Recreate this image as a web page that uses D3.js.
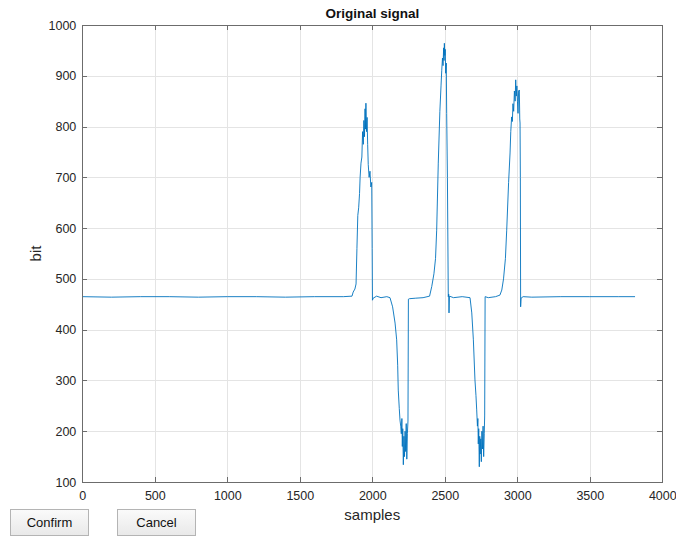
<!DOCTYPE html>
<html>
<head>
<meta charset="utf-8">
<script src="https://cdn.jsdelivr.net/npm/d3@7"></script>
<style>
  body { margin: 0; background: #fff; font-family: "Liberation Sans", Arial, sans-serif; }
  svg { position: absolute; left: 0; top: 0; }
  .btn {
    position: absolute; width: 79px; height: 27px; box-sizing: border-box;
    border: 1px solid #b4b4b4; background: linear-gradient(#fafafa, #e9e9e9);
    font-size: 13px; color: #111; text-align: center; line-height: 25px;
  }
  .grid line { stroke: #e4e4e4; shape-rendering: crispEdges; }
  .axis path, .axis line { stroke: #6c6c6c; shape-rendering: crispEdges; }
  .axis text { fill: #262626; font-size: 12.5px; font-family: "Liberation Sans", Arial, sans-serif; }
</style>
</head>
<body>
<svg width="676" height="536"></svg>
<div class="btn" style="left:10px; top:509px;">Confirm</div>
<div class="btn" style="left:117px; top:509px;">Cancel</div>
<script>
// signal values (sample index, bit value)
var samples = [0, 200, 400, 600, 800, 1000, 1200, 1400, 1600, 1800, 1860,
  1868, 1880, 1888, 1894, 1900, 1906, 1912, 1916, 1922, 1928, 1933, 1938, 1942,
  1946, 1950, 1953, 1956, 1960, 1964, 1968, 1972, 1978, 1984, 1990, 1996, 1999,
  2001, 2006, 2030, 2060, 2100, 2122, 2140, 2157, 2168, 2175, 2179, 2186, 2191,
  2196, 2200, 2204, 2207, 2210, 2214, 2218, 2222, 2226, 2230, 2234, 2238, 2242,
  2246, 2249, 2256, 2300, 2350, 2395, 2410, 2425, 2436, 2444, 2455, 2466, 2474,
  2479, 2484, 2488, 2492, 2495, 2497, 2500, 2503, 2506, 2510, 2513, 2518, 2524,
  2527, 2529, 2532, 2560, 2620, 2674, 2686, 2697, 2708, 2715, 2720, 2725, 2728,
  2731, 2734, 2738, 2741, 2744, 2748, 2752, 2756, 2760, 2764, 2768, 2772, 2775,
  2778, 2800, 2850, 2880, 2893, 2905, 2918, 2927, 2940, 2950, 2955, 2961, 2966,
  2970, 2975, 2980, 2985, 2989, 2993, 2997, 3001, 3005, 3009, 3014, 3017, 3019,
  3021, 3023, 3026, 3040, 3100, 3300, 3500, 3700, 3812];
var bits = [465, 464, 465, 465, 464, 465, 465, 464, 465, 465, 466,
  474, 480, 490, 560, 625, 640, 668, 700, 728, 740, 790, 765, 812,
  780, 835, 795, 846, 790, 818, 765, 725, 700, 712, 681, 690, 560,
  458, 462, 466, 463, 465, 463, 445, 413, 380, 330, 281, 245, 222,
  210, 195, 225, 170, 205, 134, 190, 150, 200, 160, 215, 145, 195,
  220, 460, 461, 462, 463, 466, 485, 510, 540, 596, 728, 830, 880,
  911, 935, 920, 955, 930, 964, 940, 952, 905, 925, 826, 700, 465,
  470, 433, 466, 463, 465, 463, 433, 380, 301, 270, 242, 210, 225,
  175, 205, 130, 190, 155, 185, 140, 200, 165, 210, 150, 195, 230,
  465, 463, 465, 468, 478, 500, 540, 596, 690, 748, 790, 819, 810,
  845, 830, 870, 850, 892, 860, 880, 850, 826, 870, 872, 815, 807,
  700, 445, 462, 465, 464, 465, 465, 465, 465];

var xTicks = [0, 500, 1000, 1500, 2000, 2500, 3000, 3500, 4000];
var yTicks = [100, 200, 300, 400, 500, 600, 700, 800, 900, 1000];

var svg = d3.select("svg");
var plotL = 82.3, plotR = 662.3, plotT = 25, plotB = 482;

var x = d3.scaleLinear().domain([0, 4000]).range([plotL, plotR]);
var y = d3.scaleLinear().domain([100, 1000]).range([plotB, plotT]);

// grid
var grid = svg.append("g").attr("class", "grid");
grid.selectAll(".gx").data(xTicks.slice(1, -1)).enter().append("line")
    .attr("x1", function(d) { return Math.round(x(d)) + 0.5; })
    .attr("x2", function(d) { return Math.round(x(d)) + 0.5; })
    .attr("y1", plotT).attr("y2", plotB);
grid.selectAll(".gy").data(yTicks.slice(1, -1)).enter().append("line")
    .attr("y1", function(d) { return Math.round(y(d)) + 0.5; })
    .attr("y2", function(d) { return Math.round(y(d)) + 0.5; })
    .attr("x1", plotL).attr("x2", plotR);

// signal
var pts = samples.map(function(s, i) { return [s, bits[i]]; });
var line = d3.line()
    .x(function(d) { return x(d[0]); })
    .y(function(d) { return y(d[1]); });

svg.append("path")
    .datum(pts)
    .attr("fill", "none")
    .attr("stroke", "#0072BD")
    .attr("stroke-width", 0.9)
    .attr("stroke-linejoin", "round")
    .attr("d", line);

// axes, ticks pointing inward
var fmt = d3.format("d");
svg.append("g").attr("class", "axis")
    .attr("transform", "translate(0," + plotB + ")")
    .call(d3.axisBottom(x).tickValues(xTicks).tickFormat(fmt).tickSizeInner(-5).tickSizeOuter(0).tickPadding(9));
svg.append("g").attr("class", "axis")
    .attr("transform", "translate(0," + plotT + ")")
    .call(d3.axisTop(x).tickValues(xTicks).tickSizeInner(-5).tickSizeOuter(0).tickFormat(""));
svg.append("g").attr("class", "axis")
    .attr("transform", "translate(" + plotL + ",0)")
    .call(d3.axisLeft(y).tickValues(yTicks).tickFormat(fmt).tickSizeInner(-5).tickSizeOuter(0).tickPadding(6));
svg.append("g").attr("class", "axis")
    .attr("transform", "translate(" + plotR + ",0)")
    .call(d3.axisRight(y).tickValues(yTicks).tickSizeInner(-5).tickSizeOuter(0).tickFormat(""));

// labels
svg.append("text")
    .attr("x", (plotL + plotR) / 2).attr("y", 18)
    .attr("text-anchor", "middle")
    .style("font-weight", "bold").style("font-size", "13.5px").style("fill", "#111")
    .text("Original signal");

svg.append("text")
    .attr("x", (plotL + plotR) / 2).attr("y", 520)
    .attr("text-anchor", "middle")
    .style("font-size", "15px").style("fill", "#262626")
    .text("samples");

svg.append("text")
    .attr("transform", "translate(41," + (plotT + plotB) / 2 + ") rotate(-90)")
    .attr("text-anchor", "middle")
    .style("font-size", "15px").style("fill", "#262626")
    .text("bit");
</script>
</body>
</html>
